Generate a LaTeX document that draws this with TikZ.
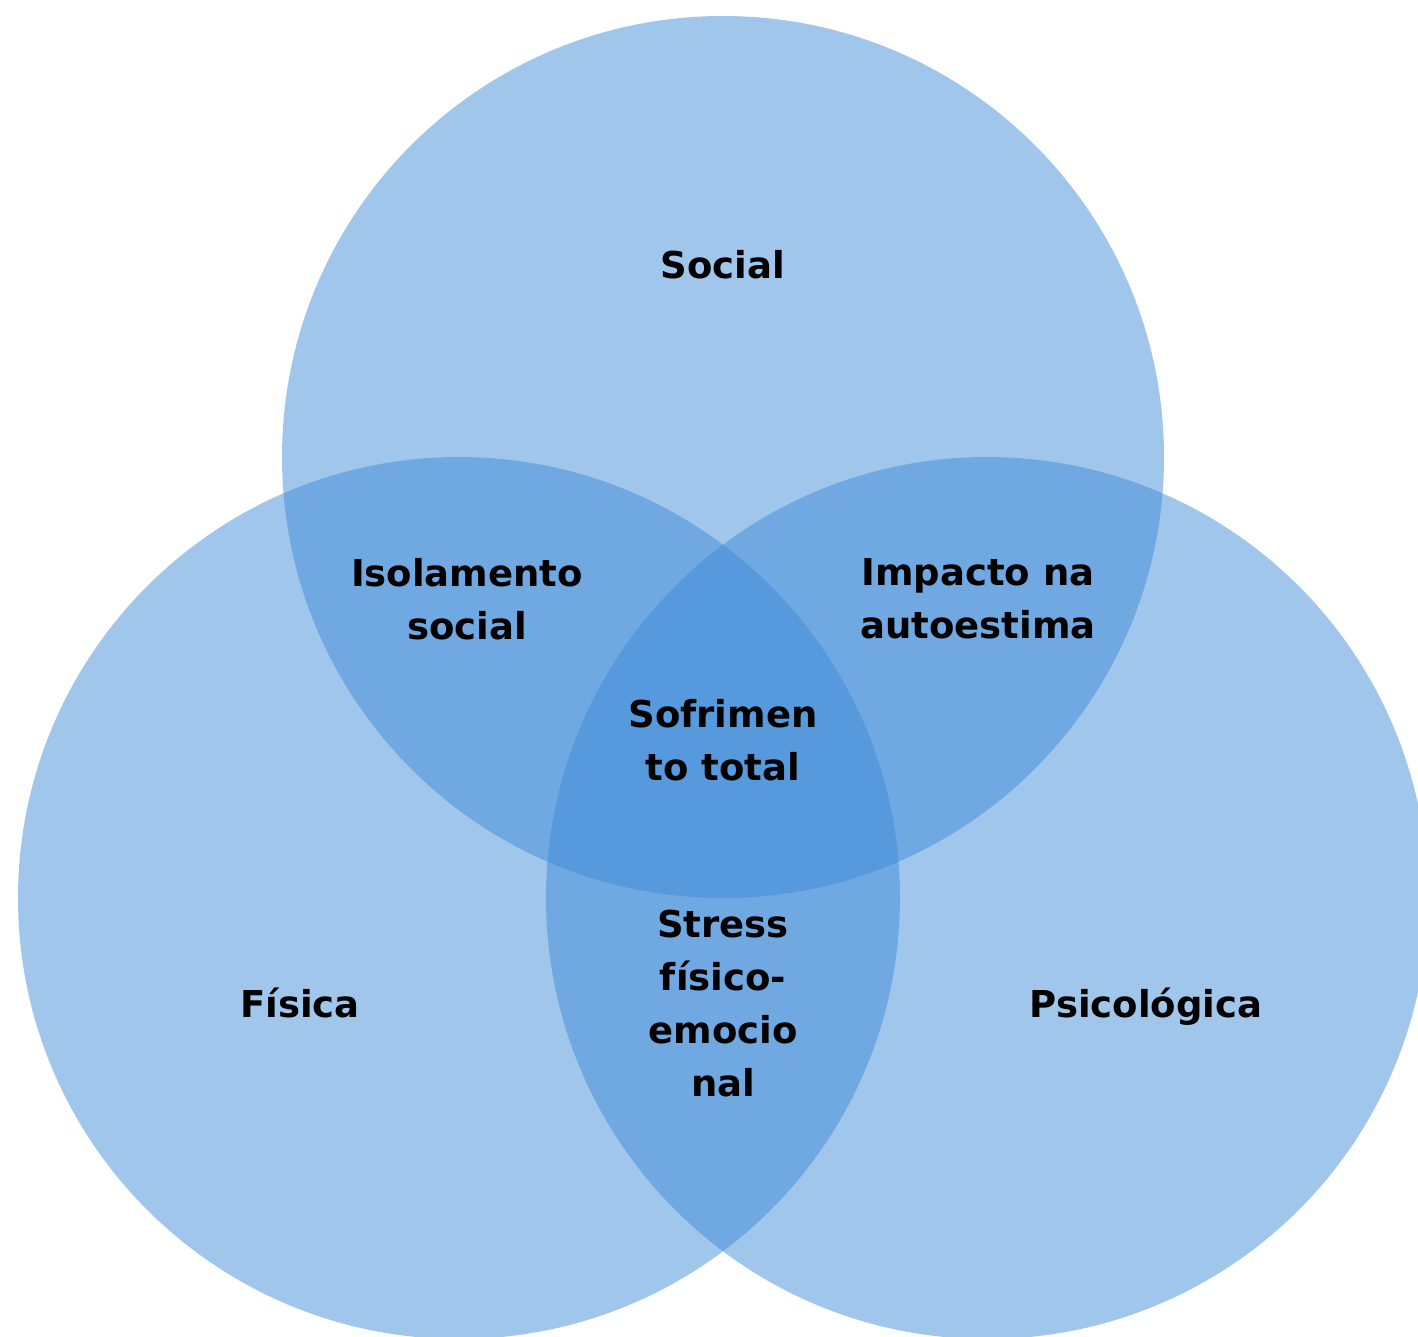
\documentclass[tikz,border=0pt]{standalone}
\usepackage{fontspec}
\setmainfont{DejaVu Sans}
\definecolor{vennblue}{RGB}{59,136,215}
\begin{document}
\begin{tikzpicture}[x=1pt,y=-1pt,
  venn/.style={circle,minimum size=882pt,inner sep=0pt,fill=vennblue,fill opacity=0.48,draw=none},
  lbl/.style={font=\fontsize{37}{53}\selectfont\bfseries,align=center,text=black,inner sep=0pt}]
\useasboundingbox (0,0) rectangle (1418,1336);
\begin{scope}
\clip (0,0) rectangle (1418,1336);
\node[venn] (social) at (723,457) {};
\node[venn] (fisica) at (459,898) {};
\node[venn] (psico) at (987,898) {};
\end{scope}
\node[lbl,anchor=base] (tsocial) at (723,278) {Social};
\node[lbl,anchor=base] (tfisica) at (300,1017) {Física};
\node[lbl,anchor=base] (tpsico) at (1146,1017) {Psicológica};
\node[lbl] (tiso) at (467,599) {Isolamento\\social};
\node[lbl] (timp) at (978,599) {Impacto na\\autoestima};
\node[lbl] (tsof) at (723,740) {Sofrimen\\to total};
\node[lbl] (tstress) at (723,1004) {Stress\\físico-\\emocio\\nal};
\end{tikzpicture}
\end{document}
